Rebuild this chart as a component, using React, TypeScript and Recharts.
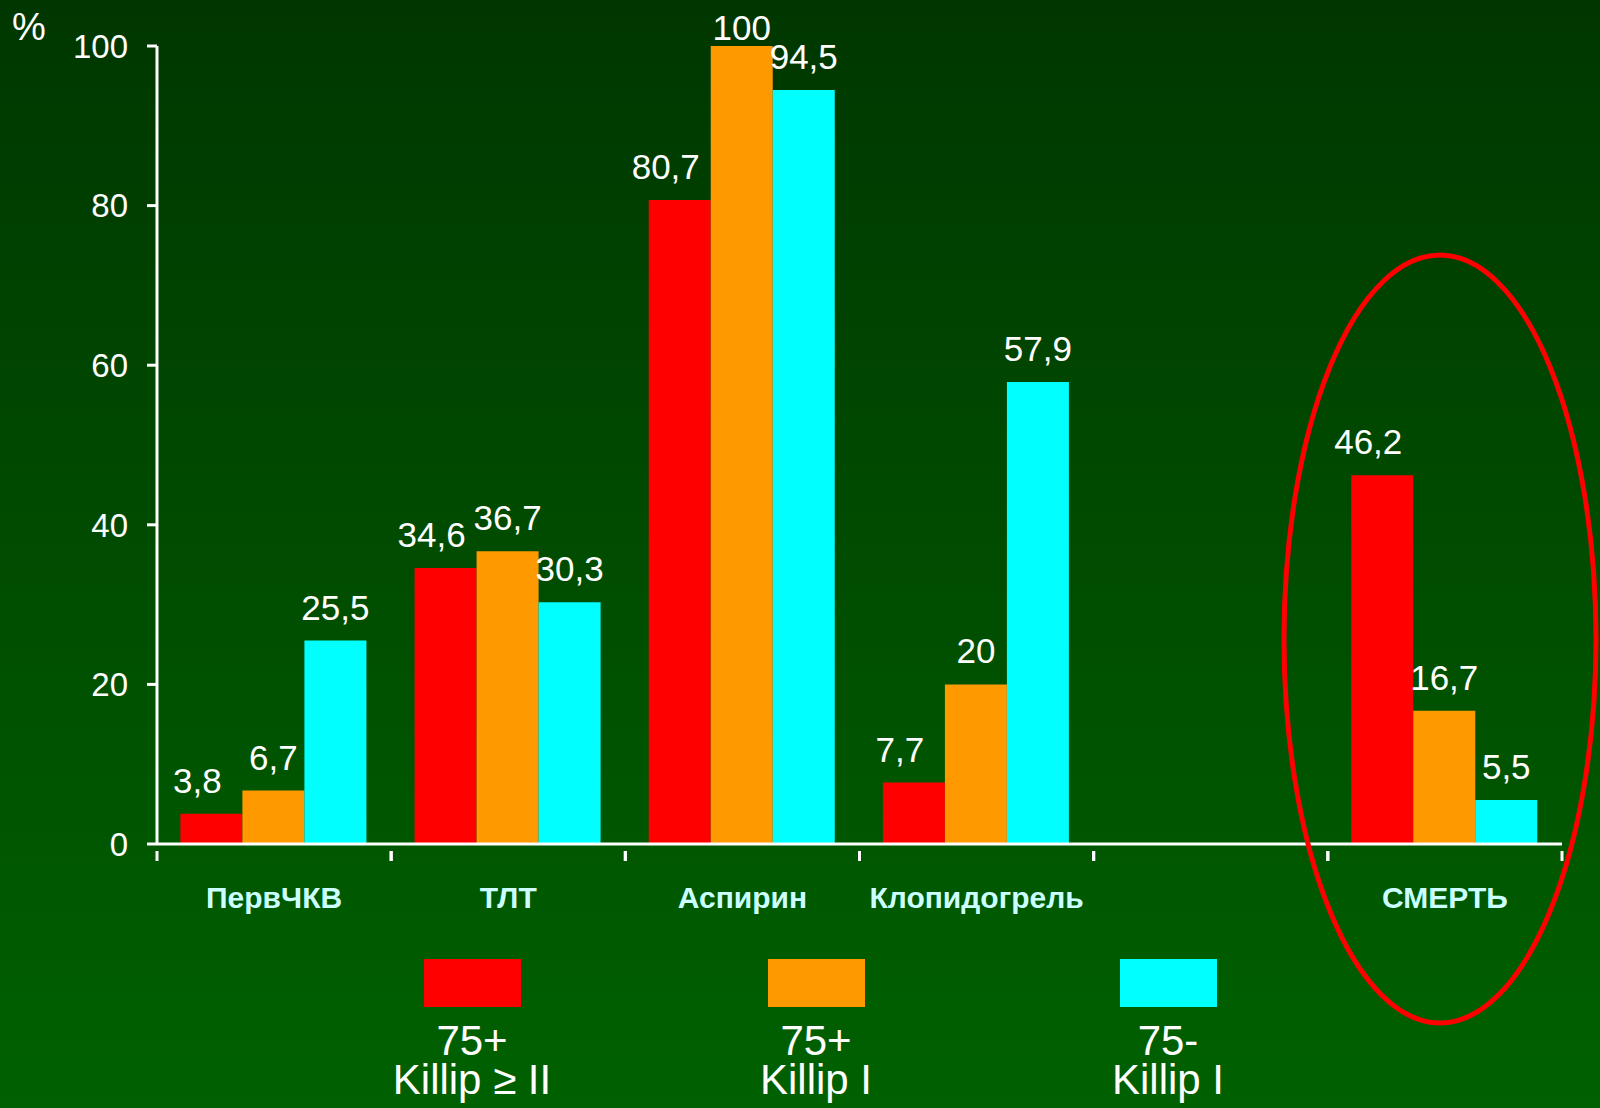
import { BarChart, Bar, XAxis, YAxis, LabelList } from "recharts";

const categories = ["ПервЧКВ", "ТЛТ", "Аспирин", "Клопидогрель", "", "СМЕРТЬ"];
const killip2Plus75 = [3.8, 34.6, 80.7, 7.7, null, 46.2];
const killip1Plus75 = [6.7, 36.7, 100, 20, null, 16.7];
const killip1Under75 = [25.5, 30.3, 94.5, 57.9, null, 5.5];
const yTicks = [0, 20, 40, 60, 80, 100];

const seriesNames = ["75+\nKillip ≥ II", "75+\nKillip I", "75-\nKillip I"];
const seriesColors = ["#ff0000", "#ff9900", "#00ffff"];

const data = categories.map((name, i) => ({
    name,
    a: killip2Plus75[i],
    b: killip1Plus75[i],
    c: killip1Under75[i],
}));

const W = 1600;
const H = 1108;
const M = { top: 46, right: 38, left: 0, bottom: 0 };
const Y_AXIS_W = 157;
const X_AXIS_H = 264;
const FONT = "'Liberation Sans', Arial, sans-serif";

const fmt = (v: any) => (v == null ? "" : String(v).replace(".", ","));

// category ticks sit on the band edges, labels in the middle
const bandW = (W - M.right - Y_AXIS_W) / categories.length;

const CatTick = (props: any) => {
    const { x, y, payload } = props;
    return (
        <g>
            <line x1={x - bandW / 2} x2={x - bandW / 2} y1={y - 1} y2={y + 9} stroke="#fff" strokeWidth={3} />
            <line x1={x + bandW / 2} x2={x + bandW / 2} y1={y - 1} y2={y + 9} stroke="#fff" strokeWidth={3} />
            <text x={x} y={y + 56} textAnchor="middle" fill="#ccffff" fontSize={30} fontWeight="bold" fontFamily={FONT}>
                {payload.value}
            </text>
        </g>
    );
};

const makeLabel = (dx: number) => (props: any) => {
    const { x, y, width, value } = props;
    if (value == null) return null;
    const base = Math.max(y - 21, 40);
    return (
        <text x={x + width / 2 + dx} y={base} textAnchor="middle" fill="#fff" fontSize={35} fontFamily={FONT}>
            {fmt(value)}
        </text>
    );
};

const legendX = [472, 816, 1168];

export default function App() {
    return (
        <div
            style={{
                position: "absolute",
                left: 0,
                top: 0,
                width: W,
                height: H,
                background: "linear-gradient(to bottom, #003700 0%, #006100 100%)",
                fontFamily: FONT,
                overflow: "hidden",
            }}
        >
            <BarChart width={W} height={H} data={data} margin={M} barCategoryGap="10%" barGap={0}>
                <XAxis
                    dataKey="name"
                    height={X_AXIS_H}
                    axisLine={{ stroke: "#fff", strokeWidth: 3 }}
                    tickLine={false}
                    tick={<CatTick />}
                    interval={0}
                />
                <YAxis
                    width={Y_AXIS_W}
                    domain={[0, 100]}
                    ticks={yTicks}
                    interval={0}
                    axisLine={{ stroke: "#fff", strokeWidth: 3 }}
                    tickLine={{ stroke: "#fff", strokeWidth: 3 }}
                    tickSize={10}
                    tickMargin={19}
                    tick={{ fill: "#fff", fontSize: 33, fontFamily: FONT }}
                />
                <Bar dataKey="a" fill={seriesColors[0]} isAnimationActive={false}>
                    <LabelList dataKey="a" content={makeLabel(-14)} />
                </Bar>
                <Bar dataKey="b" fill={seriesColors[1]} isAnimationActive={false}>
                    <LabelList dataKey="b" content={makeLabel(0)} />
                </Bar>
                <Bar dataKey="c" fill={seriesColors[2]} isAnimationActive={false}>
                    <LabelList dataKey="c" content={makeLabel(0)} />
                </Bar>
            </BarChart>

            {/* % title */}
            <div style={{ position: "absolute", left: 12, top: 6, color: "#fff", fontSize: 38 }}>%</div>

            {/* legend */}
            {seriesNames.map((n, i) => (
                <div
                    key={i}
                    style={{
                        position: "absolute",
                        left: legendX[i] - 120,
                        top: 959,
                        width: 240,
                        textAlign: "center",
                        color: "#fff",
                    }}
                >
                    <div style={{ width: 97, height: 48, background: seriesColors[i], margin: "0 auto" }} />
                    <div style={{ fontSize: 42, lineHeight: "39px", marginTop: 14, whiteSpace: "pre" }}>{n}</div>
                </div>
            ))}

            {/* highlight ring */}
            <svg width={W} height={H} style={{ position: "absolute", left: 0, top: 0, pointerEvents: "none" }}>
                <ellipse cx={1440} cy={639} rx={156} ry={384} fill="none" stroke="#ff0000" strokeWidth={5} />
            </svg>
        </div>
    );
}
